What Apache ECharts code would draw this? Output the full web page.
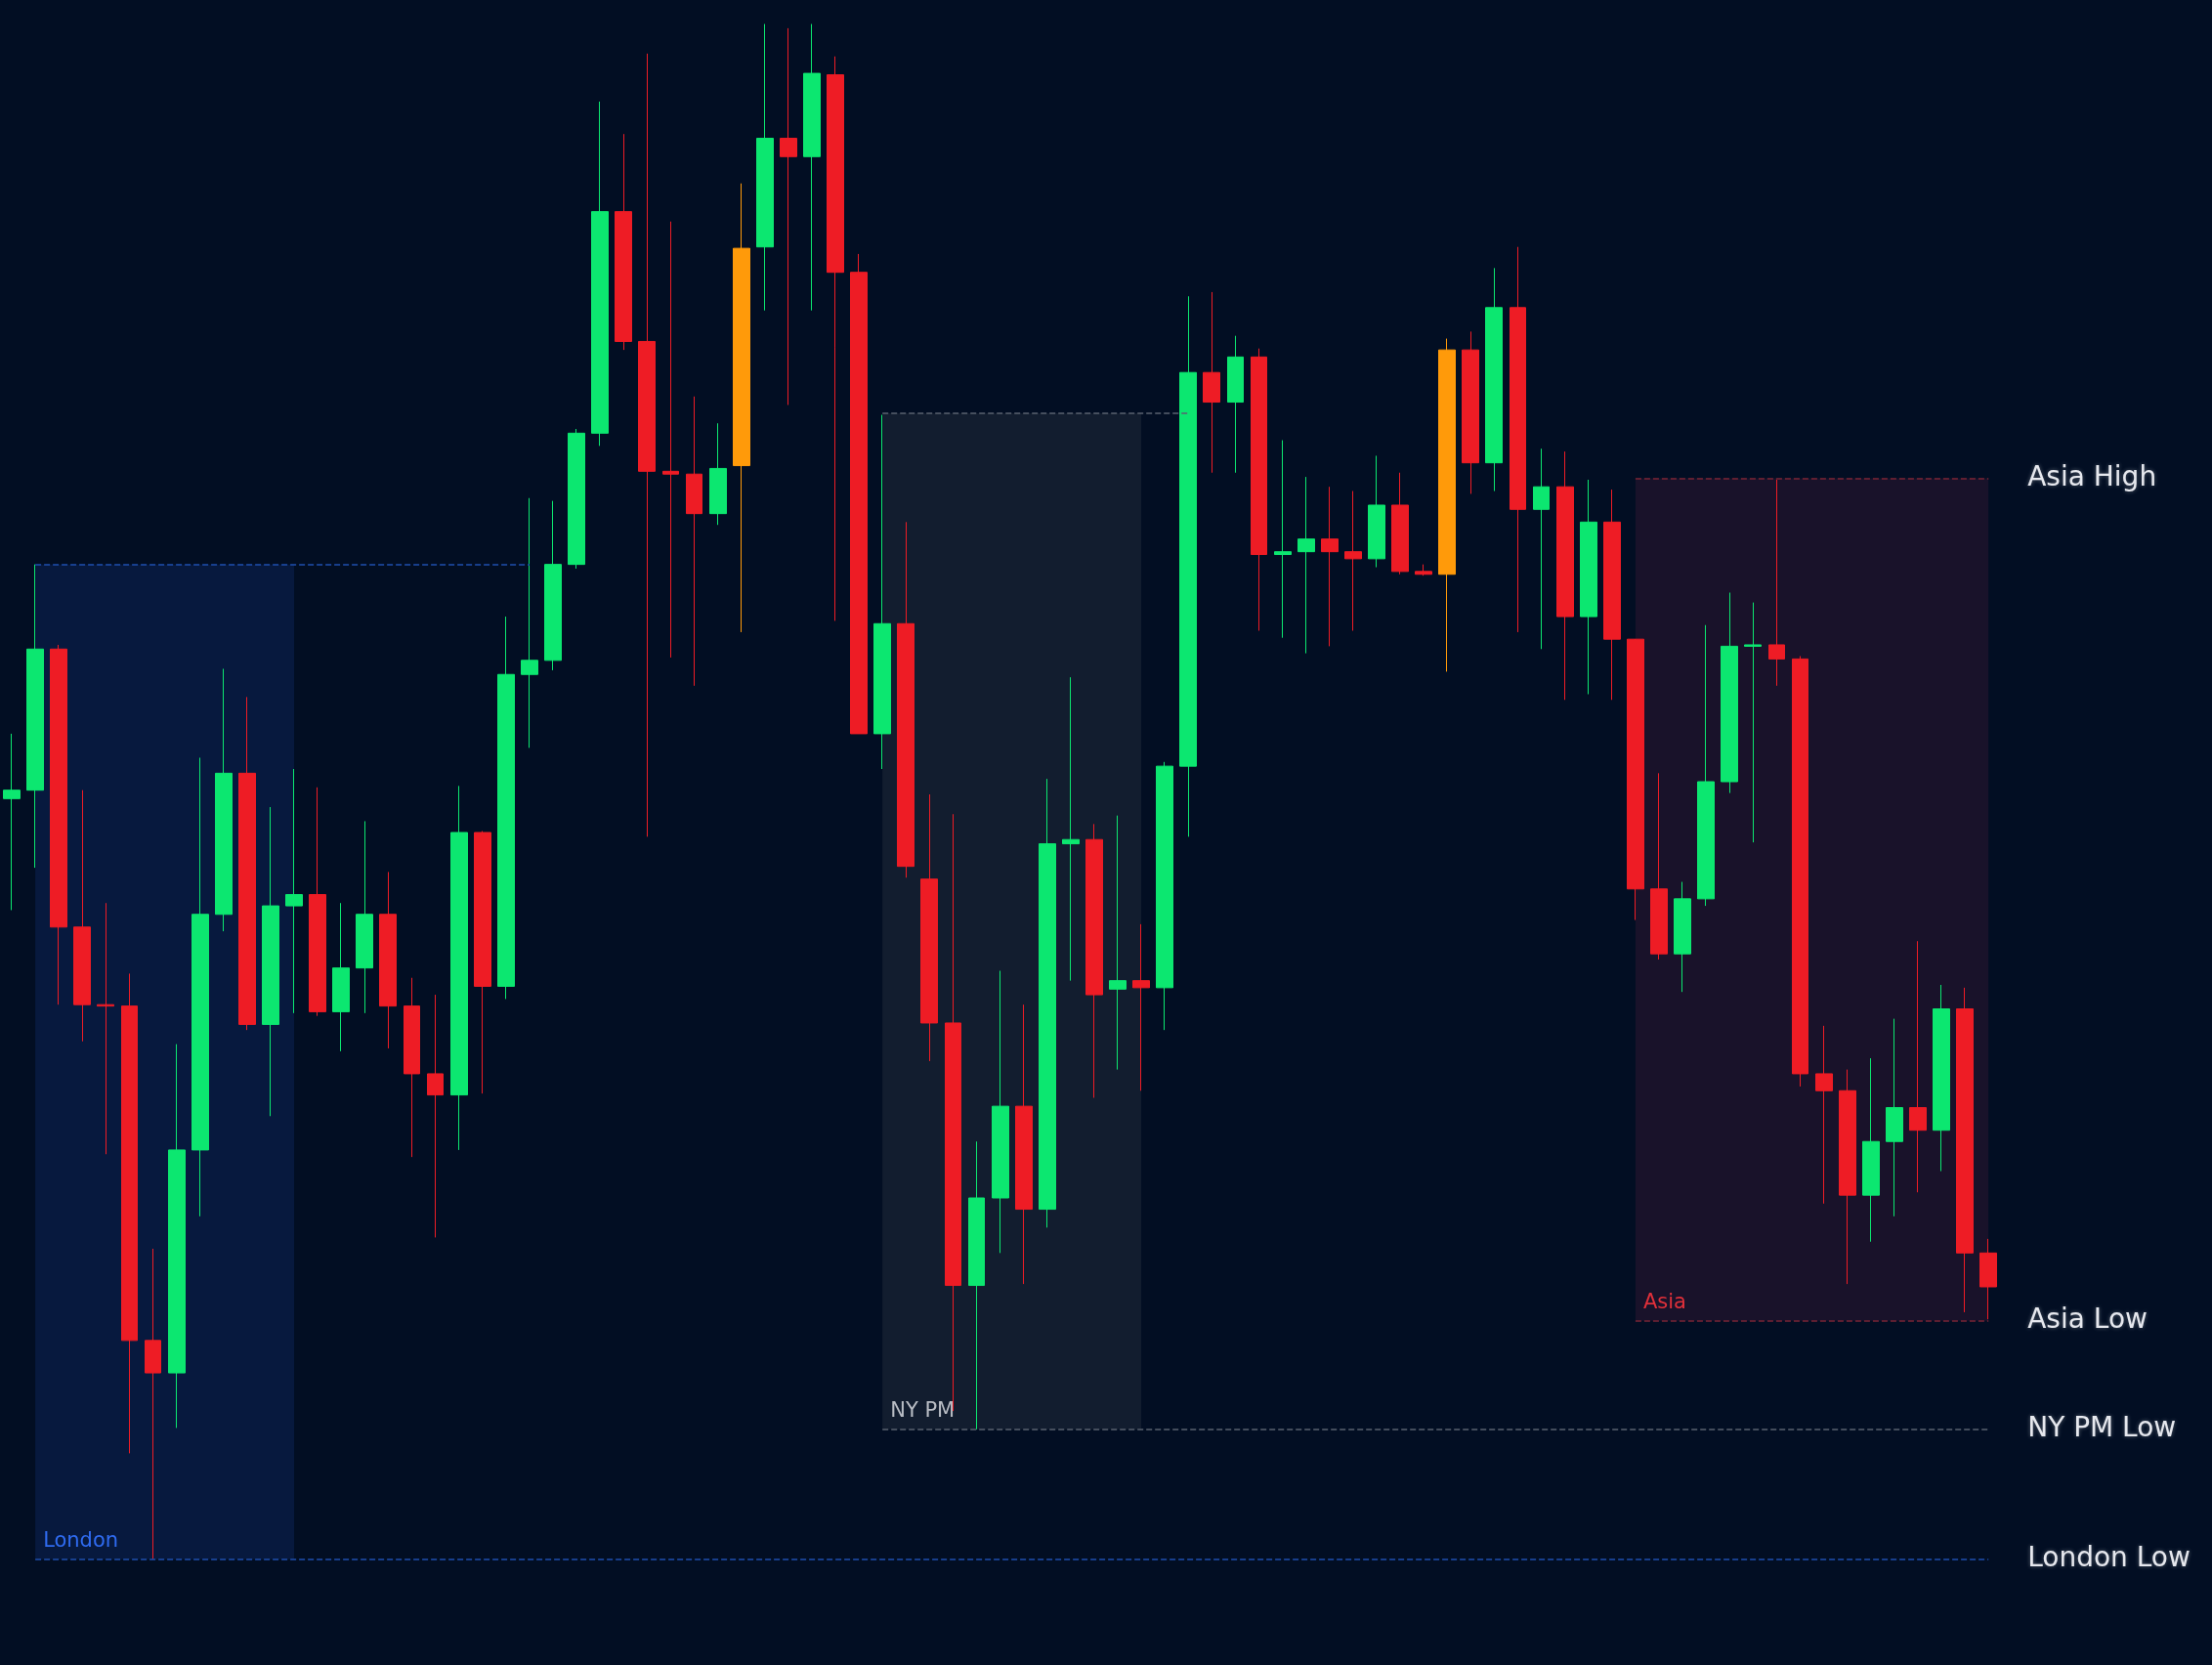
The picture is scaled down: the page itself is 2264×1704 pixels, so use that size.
<!DOCTYPE html>
<html><head><meta charset="utf-8">
<script src="https://cdn.jsdelivr.net/npm/echarts@6/dist/echarts.min.js"></script>
<style>html,body{margin:0;padding:0;background:#020e23}#c{width:2264px;height:1704px}</style>
</head><body><div id="c"></div>
<script>
// price scale is in chart units (axis inverted)
const opens  = [566,560,460,657,712,713,950,973,815,648,548,726,642,634,717,686,648,713,761,776,590,699,478,468,400,307,150,242,334,336,364,330,175,98,111,53,193,520,442,623,725,911,849,784,857,598,595,701,695,700,543,264,285,253,393,391,382,391,396,358,405,407,248,328,218,361,345,437,370,453,630,676,637,554,458,457,467,761,773,847,809,785,801,715,888];
const closes = [560,460,657,712,713,950,973,815,648,548,726,642,634,717,686,648,713,761,776,590,699,478,468,400,307,150,242,334,336,364,332,176,98,111,52,193,520,442,614,725,911,849,784,857,598,595,705,695,700,543,264,285,253,393,391,382,391,396,358,405,407,248,328,218,361,345,437,370,453,630,676,637,554,458,457,467,761,773,847,809,785,801,715,888,912];
const highs  = [520,400,457,560,640,690,885,740,537,474,494,572,545,558,640,582,618,693,705,557,589,437,353,355,304,72,95,38,157,281,300,130,17,20,17,40,180,294,370,563,577,809,688,712,552,480,584,578,655,540,210,207,238,247,312,338,345,348,323,335,400,240,235,190,175,318,320,340,347,453,548,625,443,420,427,340,465,727,758,750,722,667,698,700,878];
const lows   = [645,615,712,738,818,1030,1105,1012,862,660,730,791,718,720,745,718,743,820,877,815,775,708,530,475,403,316,248,593,466,486,372,448,220,287,220,440,520,545,622,752,1000,1013,888,910,870,695,778,758,773,730,593,335,335,447,452,463,458,447,402,407,408,476,350,348,448,460,496,492,496,652,680,703,642,562,597,486,770,853,910,880,862,845,830,930,935];
const orangeIdx = [31,61];
const padCats = 9;
const sessions = [
  {name:'London', from:1, to:12, top:400, bottom:1105, topEnd:22, bottomEnd:84, lowLabel:'London Low', fill:'rgba(10,30,72,0.75)', line:'#1f4fae', text:'#2f6bf0'},
  {name:'NY PM', from:37, to:48, top:293, bottom:1013, topEnd:50, bottomEnd:84, lowLabel:'NY PM Low', fill:'rgba(30,40,55,0.6)', line:'#5a6270', text:'#b8bcc4'},
  {name:'Asia', from:69, to:84, top:339, bottom:936, topEnd:84, bottomEnd:84, lowLabel:'Asia Low', highLabel:'Asia High', fill:'rgba(35,20,45,0.7)', line:'#7a2436', text:'#e0303a'}
];
const cats = [];
for (let i=0;i<opens.length+padCats;i++) cats.push(String(i));
const GREEN='#0ce770', RED='#ee1c25', ORANGE='#ff9a0a';
const data = opens.map((o,i)=>{
  const it={value:[o,closes[i],lows[i],highs[i]]};
  if(orangeIdx.includes(i)) it.itemStyle={color:ORANGE,color0:ORANGE,borderColor:ORANGE,borderColor0:ORANGE};
  return it;
});
const areas=[], lines=[];
const lblStyle={color:'#e6e8ee',fontSize:28,fontFamily:'DejaVu Sans',textShadowColor:'rgba(255,255,255,0.35)',textShadowBlur:4};
sessions.forEach(s=>{
  areas.push([{xAxis:s.from,yAxis:s.top,itemStyle:{color:s.fill},
    label:{show:true,position:'insideBottomLeft',formatter:s.name,color:s.text,fontSize:21,fontFamily:'DejaVu Sans',distance:8}},
    {xAxis:s.to,yAxis:s.bottom}]);
  lines.push([{coord:[s.from,s.top],lineStyle:{color:s.line,type:'dashed',width:1.5},
    label:s.highLabel?Object.assign({show:true,position:'end',formatter:s.highLabel,distance:40},lblStyle):{show:false}},
    {coord:[s.topEnd,s.top]}]);
  lines.push([{coord:[s.from,s.bottom],lineStyle:{color:s.line,type:'dashed',width:1.5},
    label:Object.assign({show:true,position:'end',formatter:s.lowLabel,distance:40},lblStyle)},
    {coord:[s.bottomEnd,s.bottom]}]);
});
const chart=echarts.init(document.getElementById('c'));
chart.setOption({
  backgroundColor:'#020e23',
  animation:false,
  grid:{left:-6,right:-13,top:0,bottom:0},
  xAxis:{type:'category',data:cats,show:false,boundaryGap:true},
  yAxis:{type:'value',inverse:true,min:0,max:1180,show:false,splitLine:{show:false}},
  series:[{
    type:'candlestick',data:data,barWidth:'72%',
    itemStyle:{color:RED,color0:GREEN,borderColor:RED,borderColor0:GREEN,borderWidth:1},
    markArea:{silent:true,data:areas},
    markLine:{silent:true,symbol:['none','none'],data:lines}
  }]
});
</script></body></html>
